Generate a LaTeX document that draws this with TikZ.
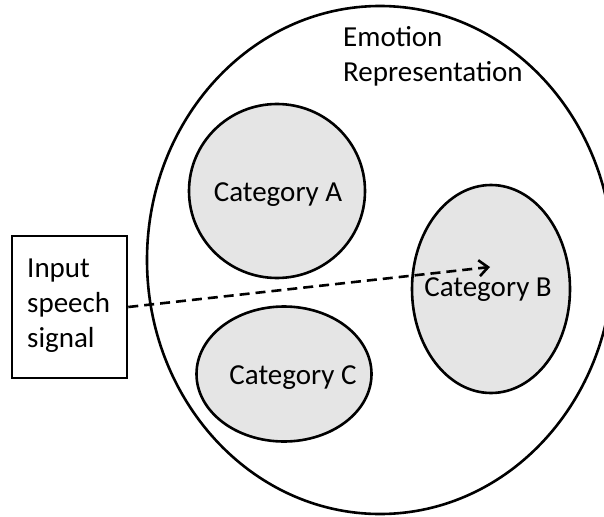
\documentclass[tikz,border=0pt]{standalone}
\usepackage{fontspec}
\setmainfont{Carlito}
\usetikzlibrary{shapes.geometric,arrows.meta}
\begin{document}
\begin{tikzpicture}[x=1pt,y=-1pt,
  every node/.style={font=\fontsize{29}{35}\selectfont},
  cat/.style={draw=black,line width=2.6pt,fill=catgray,ellipse,inner sep=0pt},
  outer/.style={draw=black,line width=2.6pt,ellipse,inner sep=0pt},
  inbox/.style={draw=black,line width=2.6pt,rectangle,inner sep=0pt},
  lbl/.style={align=left,inner sep=0pt,anchor=west},
  flow/.style={line width=2.6pt,dash pattern=on 10pt off 6pt,-{Straight Barb[length=9pt,width=16pt,line width=2.6pt]}}]
\definecolor{catgray}{HTML}{E5E5E5}
\useasboundingbox (0,0) rectangle (604,516);
\begin{scope}
\clip (0,0) rectangle (604,516);
\node[outer,minimum width=466pt,minimum height=508pt] (rep) at (380,260) {};
\end{scope}
\node[lbl] (replbl) at (343,56) {Emotion\\Representation};
\node[cat,minimum width=176pt,minimum height=174pt] (ca) at (277,191) {};
\node at (278,195) {Category A};
\node[cat,minimum width=158pt,minimum height=208pt] (cb) at (491,289) {};
\node (cbl) at (488,290) {Category B};
\node[cat,minimum width=175pt,minimum height=135pt] (cc) at (284,374) {};
\node at (293,378) {Category C};
\node[inbox,minimum width=115pt,minimum height=142pt] (in) at (69.5,307) {};
\node[lbl] (inlbl) at (27,306) {Input\\speech\\signal};
\coordinate (tip) at (490,267);
\draw[flow] (in.east) -- (tip);
\end{tikzpicture}
\end{document}
